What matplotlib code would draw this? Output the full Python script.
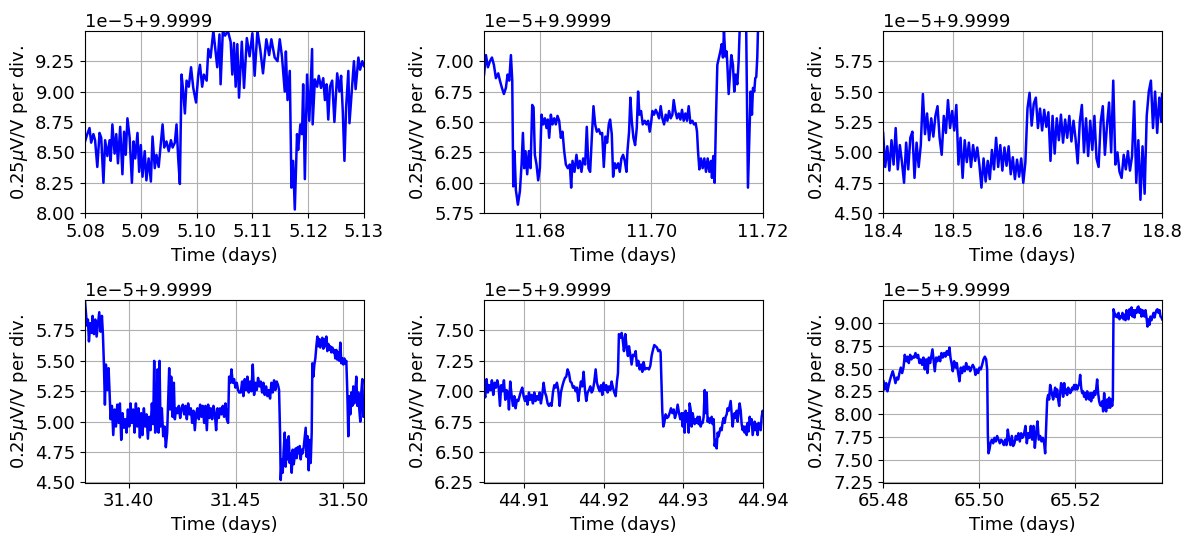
import numpy as np
import matplotlib
matplotlib.use("Agg")
import matplotlib.pyplot as plt
from matplotlib.ticker import MultipleLocator

# y values are in units of 1e-5 above the base value 9.9999 (V/V)
BASE = 9.9999
UNIT = 1e-5

# ---------------- Panel 1 ----------------
t1 = [5.0800, 5.0804, 5.0808, 5.0811, 5.0815, 5.0818, 5.0822, 5.0826, 5.0829, 5.0833,
      5.0836, 5.0840, 5.0844, 5.0846, 5.0849, 5.0853, 5.0856, 5.0859, 5.0863, 5.0867,
      5.0870, 5.0873, 5.0876, 5.0880, 5.0884, 5.0887, 5.0890, 5.0894, 5.0897, 5.0900,
      5.0903, 5.0907, 5.0910, 5.0914, 5.0918, 5.0921, 5.0925, 5.0928, 5.0932, 5.0936,
      5.0939, 5.0942, 5.0946, 5.0950, 5.0954, 5.0957, 5.0961, 5.0964, 5.0967, 5.0970,
      5.0973, 5.0976, 5.0979, 5.0982, 5.0986, 5.0990, 5.0994, 5.0999, 5.1003, 5.1006,
      5.1010, 5.1013, 5.1018, 5.1021, 5.1025, 5.1030, 5.1034, 5.1037, 5.1041, 5.1043,
      5.1047, 5.1051, 5.1056, 5.1061, 5.1064, 5.1067, 5.1070, 5.1073, 5.1076,
      5.1081, 5.1085, 5.1090, 5.1095, 5.1100, 5.1104, 5.1109, 5.1114, 5.1119, 5.1125,
      5.1130, 5.1134, 5.1140, 5.1145, 5.1149, 5.1153, 5.1158, 5.1160, 5.1163, 5.1167,
      5.1170, 5.1173, 5.1176, 5.1180, 5.1182, 5.1186, 5.1189, 5.1191, 5.1194, 5.1198,
      5.1202, 5.1207, 5.1208, 5.1212, 5.1216, 5.1219, 5.1223, 5.1227, 5.1230, 5.1233,
      5.1236, 5.1239, 5.1243, 5.1247, 5.1252, 5.1256, 5.1259, 5.1262, 5.1265, 5.1268,
      5.1272, 5.1274, 5.1278, 5.1282, 5.1285, 5.1290, 5.1293, 5.1297, 5.1300]
v1 = [8.59, 8.65, 8.70, 8.58, 8.65, 8.60, 8.38, 8.66, 8.62, 8.25,
      8.60, 8.47, 8.60, 8.43, 8.73, 8.49, 8.65, 8.41, 8.71, 8.32,
      8.67, 8.48, 8.78, 8.62, 8.25, 8.59, 8.45, 8.66, 8.34, 8.56,
      8.30, 8.51, 8.27, 8.45, 8.26, 8.63, 8.37, 8.48, 8.38, 8.58,
      8.73, 8.54, 8.59, 8.51, 8.60, 8.54, 8.58, 8.73, 8.45, 8.24,
      9.14, 9.00, 8.82, 9.09, 9.04, 9.20, 9.03, 8.91, 9.14, 9.22,
      9.04, 9.14, 9.09, 9.35, 9.28, 9.50, 9.33, 9.20, 9.47, 9.06,
      9.50, 9.46, 9.50, 9.41, 9.14, 9.40, 9.04, 9.39, 8.95,
      9.41, 9.03, 9.44, 9.29, 9.48, 9.13, 9.50, 9.35, 9.15, 9.43,
      9.30, 9.43, 9.28, 9.25, 9.43, 9.29, 9.00, 9.33, 8.93, 9.17,
      8.21, 8.43, 8.03, 8.65, 8.52, 8.73, 8.65, 9.06, 8.28, 9.14,
      8.76, 9.35, 8.73, 9.10, 9.04, 9.13, 9.03, 9.11, 8.93, 9.06,
      8.77, 9.04, 9.09, 8.75, 9.15, 9.00, 9.13, 8.84, 8.43, 8.87,
      9.17, 8.74, 9.00, 9.25, 9.02, 9.28, 9.18, 9.25, 9.21]

# ---------------- Panel 2 ----------------
t2 = [11.67000, 11.67033, 11.67069, 11.67105, 11.67141, 11.67176, 11.67212, 11.67254, 11.67284, 11.67320,
      11.67355, 11.67391, 11.67421, 11.67451, 11.67481, 11.67505, 11.67523, 11.67546, 11.67570, 11.67606,
      11.67642, 11.67672, 11.67696, 11.67720, 11.67743, 11.67773, 11.67803, 11.67833, 11.67863, 11.67887,
      11.67910, 11.67940, 11.67970, 11.68000, 11.68030, 11.68060, 11.68090, 11.68119, 11.68143, 11.68167,
      11.68197, 11.68227, 11.68257, 11.68286, 11.68316, 11.68346, 11.68376, 11.68406, 11.68436, 11.68466,
      11.68501, 11.68537, 11.68561, 11.68585, 11.68621, 11.68656, 11.68686, 11.68716, 11.68746, 11.68776,
      11.68812, 11.68841, 11.68871, 11.68901, 11.68931, 11.68961, 11.68991, 11.69021, 11.69056, 11.69086,
      11.69116, 11.69146, 11.69176, 11.69206, 11.69235, 11.69259, 11.69289, 11.69313, 11.69343, 11.69373,
      11.69403, 11.69432, 11.69462, 11.69492, 11.69522, 11.69552, 11.69570, 11.69599, 11.69623, 11.69647,
      11.69677, 11.69707, 11.69737, 11.69761, 11.69784, 11.69814, 11.69844, 11.69880, 11.69910, 11.69940,
      11.69969, 11.69993, 11.70017, 11.70047, 11.70077, 11.70107, 11.70137, 11.70166, 11.70196, 11.70226,
      11.70256, 11.70286, 11.70316, 11.70345, 11.70375, 11.70399, 11.70429, 11.70459, 11.70489, 11.70519,
      11.70548, 11.70578, 11.70608, 11.70638, 11.70668, 11.70698, 11.70733, 11.70763, 11.70793, 11.70817,
      11.70835, 11.70859, 11.70888, 11.70918, 11.70948, 11.70978, 11.71008, 11.71038, 11.71068, 11.71085,
      11.71109, 11.71133, 11.71157, 11.71181, 11.71211, 11.71235, 11.71259, 11.71282, 11.71300, 11.71324,
      11.71348, 11.71366, 11.71384, 11.71408, 11.71432, 11.71461, 11.71485, 11.71509, 11.71539, 11.71563,
      11.71581, 11.71688, 11.71730, 11.71754, 11.71778, 11.71802, 11.71820, 11.71843, 11.71861, 11.71879,
      11.71897, 11.71915, 11.71969]
v2 = [6.89, 7.05, 6.95, 7.00, 7.03, 6.97, 6.86, 6.90, 6.84, 6.78,
      6.73, 6.78, 6.89, 6.84, 7.05, 6.84, 5.97, 6.26, 5.94, 5.82,
      5.93, 6.15, 6.41, 6.12, 6.26, 6.07, 6.26, 6.12, 6.64, 6.62,
      6.23, 6.15, 6.02, 6.12, 6.56, 6.48, 6.53, 6.45, 6.52, 6.37,
      6.56, 6.48, 6.53, 6.48, 6.55, 6.51, 6.37, 6.42, 6.26, 6.15,
      6.12, 6.15, 5.96, 6.18, 6.09, 6.23, 6.12, 6.18, 6.09, 6.20,
      6.15, 6.46, 6.12, 6.09, 6.37, 6.63, 6.48, 6.42, 6.44, 6.40,
      6.41, 6.13, 6.38, 6.33, 6.48, 6.52, 6.40, 6.05, 6.16, 6.12,
      6.16, 6.09, 6.20, 6.23, 6.18, 6.09, 6.26, 6.42, 6.70, 6.51,
      6.37, 6.31, 6.45, 6.75, 6.56, 6.59, 6.48, 6.51, 6.48, 6.51,
      6.42, 6.49, 6.59, 6.56, 6.60, 6.57, 6.53, 6.63, 6.53, 6.48,
      6.56, 6.51, 6.59, 6.53, 6.56, 6.68, 6.59, 6.53, 6.57, 6.52,
      6.60, 6.51, 6.57, 6.51, 6.63, 6.49, 6.51, 6.48, 6.49, 6.42,
      6.26, 6.11, 6.20, 6.12, 6.20, 6.09, 6.20, 6.09, 6.18, 6.04,
      6.22, 6.00, 6.53, 6.97, 7.03, 7.08, 7.14, 7.03, 7.25, 7.04,
      7.08, 6.92, 6.73, 6.89, 7.05, 6.97, 6.75, 6.89, 6.81, 7.00,
      7.25, 7.70, 5.96, 6.34, 6.75, 6.56, 6.78, 6.75, 6.86, 6.87,
      7.03, 7.35, 7.60]

# ---------------- Panel 3 ----------------
t3 = [18.400, 18.403, 18.406, 18.409, 18.412, 18.415, 18.418, 18.421, 18.424, 18.427,
      18.430, 18.433, 18.436, 18.439, 18.442, 18.445, 18.448, 18.451, 18.454, 18.457,
      18.460, 18.463, 18.466, 18.469, 18.472, 18.475, 18.478, 18.481, 18.484, 18.487,
      18.490, 18.493, 18.496, 18.499, 18.502, 18.505, 18.508, 18.511, 18.514, 18.517,
      18.520, 18.523, 18.526, 18.529, 18.532, 18.535, 18.538, 18.541, 18.544, 18.547,
      18.550, 18.553, 18.556, 18.559, 18.562, 18.565, 18.568, 18.571, 18.574, 18.577,
      18.580, 18.583, 18.586, 18.589, 18.592, 18.595, 18.598, 18.601, 18.604, 18.607,
      18.610, 18.613, 18.616, 18.619, 18.622, 18.625, 18.628, 18.631, 18.634, 18.637,
      18.640, 18.643, 18.646, 18.649, 18.652, 18.655, 18.658, 18.661, 18.664, 18.667,
      18.670, 18.673, 18.676, 18.679, 18.682, 18.685, 18.688, 18.691, 18.694, 18.697,
      18.700, 18.703, 18.706, 18.709, 18.712, 18.715, 18.718, 18.721, 18.724, 18.727,
      18.730, 18.733, 18.736, 18.739, 18.742, 18.745, 18.748, 18.751, 18.754, 18.757,
      18.760, 18.763, 18.766, 18.769, 18.772, 18.775, 18.778, 18.781, 18.784, 18.787,
      18.790, 18.793, 18.796, 18.799, 18.800]
v3 = [5.16, 4.88, 5.05, 4.85, 5.10, 4.90, 5.20, 4.86, 5.06, 4.92,
      4.75, 5.08, 4.86, 5.12, 5.17, 4.79, 5.08, 4.88, 5.06, 5.48,
      5.15, 5.32, 5.10, 5.28, 5.13, 5.30, 5.38, 5.12, 4.98, 5.30,
      5.16, 5.43, 5.20, 5.34, 5.18, 5.39, 4.90, 5.12, 4.79, 5.10,
      4.92, 5.08, 4.88, 5.06, 4.93, 5.04, 4.90, 4.71, 4.95, 4.76,
      4.93, 4.78, 5.02, 4.86, 5.12, 4.88, 5.06, 4.85, 5.04, 4.89,
      5.05, 4.82, 4.96, 4.78, 4.94, 4.80, 4.95, 4.75, 4.92, 5.36,
      5.49, 5.22, 5.40, 5.45, 5.20, 5.36, 5.18, 5.35, 5.21, 5.33,
      4.93, 5.30, 4.99, 5.28, 5.10, 5.31, 5.08, 5.27, 5.12, 5.30,
      5.09, 5.26, 5.11, 4.91, 5.25, 5.39, 5.00, 5.28, 4.97, 5.26,
      5.02, 5.30, 4.95, 4.88, 5.25, 5.38, 4.98, 5.22, 5.41, 5.00,
      5.59, 4.90, 5.00, 4.84, 4.79, 4.98, 4.86, 5.01, 4.85, 4.97,
      5.42, 4.75, 5.10, 4.61, 5.05, 4.66, 5.30, 5.50, 5.59, 5.20,
      5.50, 5.16, 5.45, 5.25, 5.48]

# ---------------- Panel 4 ----------------
t4 = [31.37970, 31.38059, 31.38105, 31.38152, 31.38214, 31.38276, 31.38323, 31.38385, 31.38447, 31.38509,
      31.38571, 31.38633, 31.38695, 31.38758, 31.38804, 31.38851, 31.38897, 31.38944, 31.39006, 31.39068,
      31.39115, 31.39161, 31.39223, 31.39286, 31.39348, 31.39410, 31.39472, 31.39534, 31.39596, 31.39658,
      31.39720, 31.39783, 31.39845, 31.39907, 31.39969, 31.40031, 31.40093, 31.40155, 31.40217, 31.40280,
      31.40342, 31.40404, 31.40466, 31.40528, 31.40590, 31.40652, 31.40714, 31.40777, 31.40839, 31.40901,
      31.40963, 31.41025, 31.41087, 31.41149, 31.41196, 31.41242, 31.41305, 31.41351, 31.41398, 31.41444,
      31.41491, 31.41553, 31.41615, 31.41677, 31.41739, 31.41801, 31.41848, 31.41895, 31.41941, 31.41988,
      31.42050, 31.42112, 31.42159, 31.42221, 31.42283, 31.42345, 31.42407, 31.42469, 31.42531, 31.42594,
      31.42656, 31.42718, 31.42780, 31.42842, 31.42904, 31.42966, 31.43028, 31.43090, 31.43153, 31.43215,
      31.43277, 31.43339, 31.43401, 31.43463, 31.43525, 31.43587, 31.43650, 31.43712, 31.43774, 31.43836,
      31.43898, 31.43960, 31.44022, 31.44084, 31.44147, 31.44209, 31.44271, 31.44333, 31.44395, 31.44457,
      31.44519, 31.44581, 31.44643, 31.44690, 31.44752, 31.44799, 31.44861, 31.44923, 31.44985, 31.45047,
      31.45109, 31.45156, 31.45234, 31.45296, 31.45358, 31.45420, 31.45482, 31.45544, 31.45606, 31.45668,
      31.45731, 31.45793, 31.45855, 31.45917, 31.45979, 31.46041, 31.46103, 31.46165, 31.46228, 31.46290,
      31.46352, 31.46414, 31.46476, 31.46538, 31.46600, 31.46662, 31.46724, 31.46787, 31.46849, 31.46911,
      31.46973, 31.47020, 31.47066, 31.47097, 31.47144, 31.47190, 31.47237, 31.47284, 31.47330, 31.47377,
      31.47423, 31.47470, 31.47517, 31.47563, 31.47610, 31.47656, 31.47703, 31.47749, 31.47796, 31.47843,
      31.47889, 31.47936, 31.47982, 31.48029, 31.48076, 31.48122, 31.48169, 31.48215, 31.48262, 31.48309,
      31.48355, 31.48402, 31.48448, 31.48495, 31.48542, 31.48573, 31.48619, 31.48666, 31.48712, 31.48759,
      31.48806, 31.48852, 31.48899, 31.48945, 31.48992, 31.49038, 31.49085, 31.49132, 31.49178, 31.49225,
      31.49271, 31.49318, 31.49365, 31.49411, 31.49458, 31.49504, 31.49551, 31.49598, 31.49644, 31.49691,
      31.49737, 31.49784, 31.49830, 31.49877, 31.49924, 31.49970, 31.50017, 31.50063, 31.50110, 31.50157,
      31.50203, 31.50250, 31.50296, 31.50343, 31.50390, 31.50436, 31.50483, 31.50529, 31.50576, 31.50623,
      31.50669, 31.50716, 31.50762, 31.50809, 31.50855, 31.50902, 31.50949, 31.50980]
v4 = [5.99, 5.79, 5.84, 5.66, 5.81, 5.73, 5.87, 5.72, 5.84, 5.70,
      5.80, 5.90, 5.74, 5.87, 5.72, 5.47, 5.14, 5.47, 5.26, 5.44,
      5.24, 5.02, 5.13, 4.89, 5.10, 4.96, 5.14, 4.99, 5.15, 4.85,
      5.07, 4.95, 5.02, 4.91, 5.10, 4.96, 5.15, 4.99, 5.10, 4.91,
      5.15, 4.96, 5.11, 4.87, 5.07, 4.89, 5.11, 4.96, 5.06, 4.86,
      5.04, 4.93, 5.15, 4.98, 5.50, 4.91, 5.15, 5.43, 4.91, 5.50,
      4.96, 5.11, 4.88, 4.96, 4.79, 4.91, 5.18, 5.44, 5.10, 5.37,
      5.04, 5.32, 5.02, 5.11, 5.07, 5.13, 5.03, 5.11, 5.14, 5.06,
      5.13, 5.02, 5.15, 5.06, 5.11, 4.99, 5.09, 4.93, 5.07, 5.11,
      5.02, 5.14, 5.04, 5.13, 4.99, 5.13, 4.93, 5.14, 5.03, 5.11,
      5.02, 5.13, 5.07, 4.93, 5.11, 5.03, 5.11, 5.06, 5.13, 5.04,
      5.15, 5.02, 4.99, 5.37, 5.32, 5.43, 5.32, 5.35, 5.28, 5.32,
      5.26, 5.24, 5.24, 5.33, 5.21, 5.35, 5.26, 5.37, 5.24, 5.33,
      5.25, 5.47, 5.22, 5.32, 5.26, 5.36, 5.29, 5.33, 5.24, 5.32,
      5.22, 5.29, 5.21, 5.26, 5.19, 5.32, 5.24, 5.34, 5.26, 5.33,
      5.30, 5.26, 4.91, 4.52, 4.69, 4.58, 4.77, 4.91, 4.63, 4.85,
      4.69, 4.88, 4.66, 4.74, 4.58, 4.77, 4.65, 4.71, 4.78, 4.70,
      4.79, 4.74, 4.80, 4.69, 4.77, 4.74, 4.79, 4.87, 4.95, 4.71,
      4.88, 4.60, 4.85, 4.66, 4.91, 5.48, 5.37, 5.47, 5.52, 5.62,
      5.70, 5.62, 5.68, 5.61, 5.65, 5.69, 5.60, 5.68, 5.62, 5.70,
      5.58, 5.64, 5.59, 5.62, 5.57, 5.61, 5.57, 5.59, 5.52, 5.59,
      5.51, 5.57, 5.50, 5.65, 5.48, 5.52, 5.47, 5.52, 5.48, 5.50,
      5.24, 4.88, 5.21, 5.06, 5.24, 5.13, 5.29, 5.15, 5.24, 5.37,
      5.13, 5.24, 5.10, 5.00, 5.24, 5.35, 5.04, 5.15]

# ---------------- Panel 5 ----------------
t5 = [44.90498, 44.90515, 44.90531, 44.90548, 44.90565, 44.90582, 44.90598, 44.90615, 44.90632, 44.90649,
      44.90665, 44.90682, 44.90699, 44.90715, 44.90732, 44.90749, 44.90766, 44.90782, 44.90799, 44.90812,
      44.90828, 44.90845, 44.90862, 44.90879, 44.90895, 44.90912, 44.90929, 44.90946, 44.90962, 44.90979,
      44.90996, 44.91013, 44.91029, 44.91046, 44.91063, 44.91079, 44.91096, 44.91113, 44.91130, 44.91146,
      44.91163, 44.91180, 44.91197, 44.91213, 44.91230, 44.91247, 44.91264, 44.91280, 44.91297, 44.91314,
      44.91331, 44.91347, 44.91364, 44.91381, 44.91397, 44.91414, 44.91431, 44.91448, 44.91464, 44.91481,
      44.91498, 44.91515, 44.91531, 44.91548, 44.91565, 44.91582, 44.91598, 44.91615, 44.91632, 44.91649,
      44.91665, 44.91682, 44.91699, 44.91715, 44.91732, 44.91749, 44.91766, 44.91782, 44.91799, 44.91816,
      44.91833, 44.91849, 44.91866, 44.91883, 44.91900, 44.91916, 44.91933, 44.91950, 44.91967, 44.91983,
      44.92000, 44.92017, 44.92033, 44.92050, 44.92067, 44.92084, 44.92100, 44.92117, 44.92134, 44.92151,
      44.92167, 44.92180, 44.92192, 44.92209, 44.92226, 44.92238, 44.92255, 44.92272, 44.92289, 44.92305,
      44.92318, 44.92335, 44.92351, 44.92368, 44.92385, 44.92402, 44.92418, 44.92435, 44.92452, 44.92469,
      44.92485, 44.92502, 44.92519, 44.92536, 44.92552, 44.92569, 44.92586, 44.92602, 44.92619, 44.92636,
      44.92653, 44.92669, 44.92686, 44.92703, 44.92715, 44.92728, 44.92736, 44.92749, 44.92761, 44.92778,
      44.92795, 44.92812, 44.92828, 44.92845, 44.92862, 44.92879, 44.92895, 44.92912, 44.92929, 44.92946,
      44.92962, 44.92979, 44.92992, 44.93004, 44.93017, 44.93029, 44.93042, 44.93054, 44.93067, 44.93079,
      44.93092, 44.93105, 44.93117, 44.93130, 44.93142, 44.93155, 44.93167, 44.93180, 44.93192, 44.93205,
      44.93218, 44.93230, 44.93243, 44.93255, 44.93268, 44.93280, 44.93293, 44.93305, 44.93318, 44.93330,
      44.93343, 44.93356, 44.93368, 44.93381, 44.93393, 44.93406, 44.93418, 44.93431, 44.93443, 44.93456,
      44.93469, 44.93481, 44.93494, 44.93506, 44.93519, 44.93531, 44.93544, 44.93556, 44.93569, 44.93582,
      44.93594, 44.93607, 44.93619, 44.93632, 44.93644, 44.93657, 44.93669, 44.93682, 44.93694, 44.93707,
      44.93720, 44.93732, 44.93745, 44.93757, 44.93770, 44.93782, 44.93795, 44.93807, 44.93820, 44.93833,
      44.93845, 44.93858, 44.93870, 44.93883, 44.93895, 44.93908, 44.93920, 44.93933, 44.93945, 44.93958,
      44.93971, 44.93983, 44.93996, 44.94000]
v5 = [6.99, 6.95, 7.10, 6.99, 7.05, 7.01, 7.09, 6.97, 7.07, 7.03,
      7.09, 7.04, 6.88, 7.05, 7.00, 7.09, 6.93, 7.01, 6.99, 6.85,
      7.08, 6.97, 6.88, 6.96, 6.86, 6.93, 6.92, 6.96, 7.00, 7.03,
      6.96, 6.92, 6.96, 6.89, 6.99, 6.93, 6.97, 6.90, 6.99, 6.92,
      6.96, 6.93, 6.99, 6.90, 6.97, 7.07, 6.99, 6.96, 6.90, 6.88,
      6.90, 6.88, 6.99, 7.05, 7.03, 7.07, 7.01, 6.88, 6.99, 7.04,
      7.08, 7.11, 7.12, 7.18, 7.15, 7.08, 7.07, 7.03, 7.04, 7.00,
      7.03, 6.92, 7.01, 7.08, 7.04, 7.16, 7.01, 6.92, 6.99, 7.01,
      7.04, 6.99, 7.01, 7.08, 7.18, 7.07, 7.03, 7.00, 7.05, 6.97,
      7.07, 7.01, 7.05, 6.99, 7.04, 7.01, 7.08, 7.03, 6.99, 6.96,
      7.08, 7.15, 7.47, 7.44, 7.48, 7.43, 7.33, 7.47, 7.36, 7.29,
      7.37, 7.30, 7.22, 7.30, 7.29, 7.33, 7.21, 7.25, 7.18, 7.22,
      7.16, 7.24, 7.18, 7.19, 7.19, 7.18, 7.21, 7.29, 7.34, 7.38,
      7.37, 7.36, 7.33, 7.34, 7.32, 7.01, 6.84, 6.71, 6.74, 6.81,
      6.78, 6.79, 6.82, 6.86, 6.82, 6.85, 6.78, 6.82, 6.89, 6.82,
      6.77, 6.82, 6.71, 6.82, 6.66, 6.84, 6.75, 6.82, 6.66, 6.90,
      6.85, 6.71, 6.82, 6.77, 6.73, 6.77, 6.74, 6.79, 6.73, 6.79,
      6.71, 6.74, 6.74, 6.79, 7.01, 6.82, 6.99, 6.75, 6.78, 6.74,
      6.77, 6.79, 6.73, 6.77, 6.55, 6.60, 6.53, 6.66, 6.63, 6.67,
      6.70, 6.68, 6.75, 6.78, 6.74, 6.79, 6.81, 6.86, 6.84, 6.88,
      6.92, 6.81, 6.71, 6.79, 6.82, 6.78, 6.84, 6.75, 6.84, 6.90,
      6.84, 6.73, 6.68, 6.71, 6.66, 6.71, 6.64, 6.74, 6.67, 6.79,
      6.73, 6.77, 6.64, 6.70, 6.75, 6.68, 6.73, 6.64, 6.74, 6.71,
      6.68, 6.79, 6.84, 6.81]

# ---------------- Panel 6 ----------------
t6 = [65.48007, 65.48035, 65.48063, 65.48090, 65.48118, 65.48146, 65.48174, 65.48201, 65.48229, 65.48257,
      65.48285, 65.48313, 65.48340, 65.48368, 65.48396, 65.48424, 65.48451, 65.48479, 65.48507, 65.48535,
      65.48563, 65.48590, 65.48618, 65.48646, 65.48674, 65.48701, 65.48729, 65.48757, 65.48785, 65.48813,
      65.48840, 65.48868, 65.48896, 65.48924, 65.48951, 65.48979, 65.49007, 65.49028, 65.49049, 65.49076,
      65.49104, 65.49132, 65.49160, 65.49188, 65.49215, 65.49243, 65.49271, 65.49299, 65.49326, 65.49354,
      65.49382, 65.49403, 65.49424, 65.49451, 65.49479, 65.49507, 65.49535, 65.49563, 65.49590, 65.49618,
      65.49646, 65.49674, 65.49701, 65.49729, 65.49757, 65.49785, 65.49813, 65.49840, 65.49868, 65.49896,
      65.49924, 65.49951, 65.49979, 65.50007, 65.50035, 65.50062, 65.50090, 65.50118, 65.50146, 65.50167,
      65.50181, 65.50194, 65.50215, 65.50236, 65.50264, 65.50292, 65.50319, 65.50347, 65.50375, 65.50403,
      65.50431, 65.50458, 65.50486, 65.50514, 65.50542, 65.50569, 65.50597, 65.50625, 65.50653, 65.50681,
      65.50708, 65.50736, 65.50764, 65.50792, 65.50819, 65.50847, 65.50875, 65.50903, 65.50931, 65.50965,
      65.50993, 65.51021, 65.51049, 65.51076, 65.51104, 65.51132, 65.51160, 65.51187, 65.51215, 65.51243,
      65.51271, 65.51299, 65.51326, 65.51354, 65.51375, 65.51389, 65.51403, 65.51417, 65.51437, 65.51458,
      65.51479, 65.51500, 65.51521, 65.51542, 65.51562, 65.51583, 65.51604, 65.51625, 65.51646, 65.51667,
      65.51687, 65.51708, 65.51729, 65.51750, 65.51771, 65.51792, 65.51812, 65.51833, 65.51854, 65.51875,
      65.51896, 65.51917, 65.51937, 65.51958, 65.51979, 65.52000, 65.52021, 65.52042, 65.52062, 65.52083,
      65.52104, 65.52125, 65.52146, 65.52167, 65.52187, 65.52208, 65.52229, 65.52250, 65.52271, 65.52292,
      65.52312, 65.52333, 65.52354, 65.52375, 65.52396, 65.52417, 65.52437, 65.52458, 65.52479, 65.52500,
      65.52521, 65.52542, 65.52562, 65.52583, 65.52604, 65.52625, 65.52646, 65.52667, 65.52687, 65.52708,
      65.52729, 65.52750, 65.52771, 65.52785, 65.52792, 65.52799, 65.52819, 65.52840, 65.52861, 65.52882,
      65.52903, 65.52924, 65.52944, 65.52965, 65.52986, 65.53007, 65.53028, 65.53049, 65.53069, 65.53090,
      65.53111, 65.53132, 65.53153, 65.53174, 65.53194, 65.53215, 65.53236, 65.53257, 65.53278, 65.53299,
      65.53319, 65.53340, 65.53361, 65.53382, 65.53403, 65.53424, 65.53444, 65.53465, 65.53486, 65.53507,
      65.53528, 65.53549, 65.53569, 65.53590, 65.53611, 65.53632, 65.53653, 65.53674, 65.53694, 65.53715,
      65.53736, 65.53757, 65.53778, 65.53799, 65.53812]
v6 = [8.36, 8.27, 8.34, 8.25, 8.32, 8.38, 8.43, 8.47, 8.41, 8.34,
      8.40, 8.38, 8.45, 8.51, 8.45, 8.51, 8.65, 8.58, 8.63, 8.56,
      8.65, 8.60, 8.63, 8.62, 8.67, 8.62, 8.65, 8.56, 8.60, 8.54,
      8.62, 8.49, 8.60, 8.45, 8.62, 8.56, 8.65, 8.71, 8.60, 8.47,
      8.62, 8.58, 8.63, 8.58, 8.67, 8.62, 8.67, 8.63, 8.69, 8.65,
      8.73, 8.62, 8.56, 8.47, 8.58, 8.51, 8.56, 8.45, 8.36, 8.51,
      8.45, 8.52, 8.47, 8.56, 8.49, 8.52, 8.47, 8.51, 8.54, 8.51,
      8.43, 8.49, 8.45, 8.51, 8.49, 8.54, 8.60, 8.63, 8.60, 8.49,
      7.79, 7.57, 7.61, 7.68, 7.72, 7.68, 7.74, 7.70, 7.76, 7.72,
      7.68, 7.72, 7.70, 7.66, 7.72, 7.66, 7.83, 7.72, 7.66, 7.76,
      7.65, 7.68, 7.76, 7.72, 7.79, 7.70, 7.79, 7.74, 7.77, 7.87,
      7.68, 7.79, 7.74, 7.87, 7.72, 7.87, 7.63, 7.79, 7.92, 7.72,
      7.76, 7.70, 7.74, 7.68, 7.57, 7.76, 7.94, 8.16, 8.21, 8.16,
      8.32, 8.27, 8.21, 8.16, 8.23, 8.29, 8.19, 8.27, 8.16, 8.09,
      8.23, 8.34, 8.27, 8.19, 8.34, 8.23, 8.27, 8.21, 8.29, 8.27,
      8.23, 8.25, 8.29, 8.27, 8.32, 8.27, 8.32, 8.27, 8.31, 8.32,
      8.43, 8.29, 8.23, 8.25, 8.19, 8.23, 8.16, 8.25, 8.19, 8.16,
      8.23, 8.14, 8.23, 8.18, 8.25, 8.21, 8.27, 8.38, 8.23, 8.14,
      8.10, 8.09, 8.14, 8.03, 8.23, 8.07, 8.03, 8.16, 8.07, 8.18,
      8.07, 8.16, 8.09, 8.16, 8.60, 9.15, 9.11, 9.07, 9.09, 9.06,
      9.11, 9.04, 9.07, 9.06, 9.11, 9.04, 9.09, 9.03, 9.14, 9.07,
      9.04, 9.15, 9.09, 9.17, 9.07, 9.14, 9.06, 9.14, 9.11, 9.17,
      9.18, 9.11, 9.15, 9.07, 9.14, 9.09, 9.07, 9.14, 9.06, 8.96,
      9.04, 8.98, 9.07, 9.03, 9.07, 9.11, 9.06, 9.11, 9.14, 9.15,
      9.11, 9.14, 9.07, 9.06, 9.04]

times = [t1, t2, t3, t4, t5, t6]
values = [v1, v2, v3, v4, v5, v6]
xlims = [(5.08, 5.13), (11.67, 11.72), (18.4, 18.8),
         (31.3797, 31.5098), (44.905, 44.94), (65.48, 65.5381)]
ylims = [(8.0, 9.5), (5.75, 7.25), (4.5, 6.0),
         (4.5, 6.0), (6.25, 7.75), (7.25, 9.25)]

plt.rcParams['font.family'] = ['DejaVu Sans']
plt.rcParams['font.size'] = 13

fig, axes = plt.subplots(2, 3, figsize=(11.91, 5.33), dpi=100)
fig.subplots_adjust(left=0.0714, right=0.9757, top=0.9418, bottom=0.0947,
                    wspace=0.4306, hspace=0.478)

for ax, t, v, xl, yl in zip(axes.flat, times, values, xlims, ylims):
    n = min(len(t), len(v))
    y = BASE + np.asarray(v[:n]) * UNIT
    ax.plot(t[:n], y, color='blue', linewidth=1.8)
    ax.set_xlim(*xl)
    ax.set_ylim(BASE + (yl[0] - 0.0005) * UNIT, BASE + (yl[1] - 0.002) * UNIT)
    ax.yaxis.set_major_locator(MultipleLocator(0.25 * UNIT))
    ax.grid(True)
    ax.set_xlabel('Time (days)')
    ax.set_ylabel(r'0.25$\mu$V/V per div.')

fig.savefig('out.png', dpi=100)
